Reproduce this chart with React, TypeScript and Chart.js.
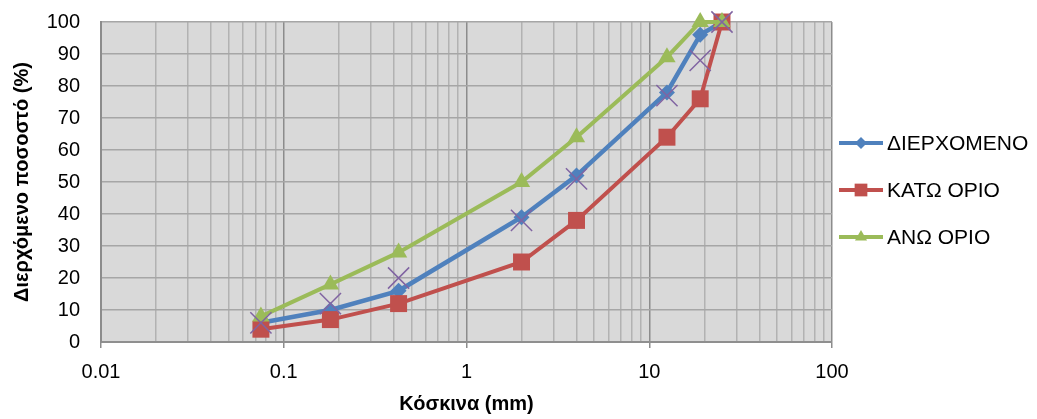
import React, { useEffect, useRef } from "react";
import { Chart, registerables } from "chart.js";

Chart.register(...registerables);

// Sieve sizes (mm)
const SIEVES = [0.075, 0.18, 0.425, 2, 4, 12.5, 19, 25];
// Passing percentages
const PASSING = [6, 10, 16, 39, 52, 78, 96, 100];
const LOWER_LIMIT = [4, 7, 12, 25, 38, 64, 76, 100];
const UPPER_LIMIT = [8, 18, 28, 50, 64, 89, 100, 100];
const SAMPLE_X = [6, 12, 20, 38, 51, 77, 88, 100];

const SERIES_NAMES = ["ΔΙΕΡΧΟΜΕΝΟ", "ΚΑΤΩ ΟΡΙΟ", "ΑΝΩ ΟΡΙΟ"];
const X_TICK_LABELS = ["0.01", "0.1", "1", "10", "100"];
const X_DECADES = [-2, -1, 0, 1, 2];
const Y_MIN = 0;
const Y_MAX = 100;
const Y_STEP = 10;

const X_TITLE = "Κόσκινα (mm)";
const Y_TITLE = "Διερχόμενο ποσοστό (%)";

const BLUE = "#4F81BD";
const RED = "#C0504D";
const GREEN = "#9BBB59";
const PURPLE = "#8064A2";

const FONT = "'Liberation Sans', Arial, sans-serif";

const isDecade = (v: number) => {
  const l = Math.log10(v);
  return Math.abs(l - Math.round(l)) < 1e-6;
};

const pts = (xs: number[], ys: number[]) => xs.map((x, i) => ({ x, y: ys[i] }));

export default function App() {
  const ref = useRef<HTMLCanvasElement | null>(null);

  useEffect(() => {
    if (!ref.current) return;

    const bgPlugin = {
      id: "plotBg",
      beforeDraw(chart: any) {
        const { ctx, chartArea } = chart;
        ctx.save();
        ctx.fillStyle = "#d9d9d9";
        ctx.fillRect(chartArea.left, chartArea.top, chartArea.right - chartArea.left, chartArea.bottom - chartArea.top);
        ctx.restore();
      },
    };

    const legendPlugin = {
      id: "customLegend",
      afterDraw(chart: any) {
        const { ctx, chartArea } = chart;
        const styles = [
          { color: BLUE, style: "rectRot", r: 6 },
          { color: RED, style: "rect", r: 9 },
          { color: GREEN, style: "triangle", r: 7 },
        ];
        const x0 = chartArea.right + 7;
        const lineLen = 44;
        const ys = [143, 190, 237];
        ctx.save();
        styles.forEach((s, i) => {
          const y = ys[i];
          ctx.strokeStyle = s.color;
          ctx.lineWidth = 4;
          ctx.beginPath();
          ctx.moveTo(x0, y);
          ctx.lineTo(x0 + lineLen, y);
          ctx.stroke();
          const cx = x0 + lineLen / 2;
          ctx.fillStyle = s.color;
          ctx.beginPath();
          if (s.style === "rectRot") {
            ctx.moveTo(cx - s.r, y);
            ctx.lineTo(cx, y - s.r);
            ctx.lineTo(cx + s.r, y);
            ctx.lineTo(cx, y + s.r);
          } else if (s.style === "rect") {
            const h = s.r * Math.SQRT1_2;
            ctx.rect(cx - h, y - h, 2 * h, 2 * h);
          } else {
            ctx.moveTo(cx, y - s.r);
            ctx.lineTo(cx + s.r * 0.866, y + s.r * 0.5);
            ctx.lineTo(cx - s.r * 0.866, y + s.r * 0.5);
          }
          ctx.closePath();
          ctx.fill();
          ctx.fillStyle = "#000";
          ctx.font = `21px ${FONT}`;
          ctx.textBaseline = "middle";
          ctx.textAlign = "left";
          ctx.fillText(SERIES_NAMES[i], x0 + lineLen + 4, y + 1);
        });
        ctx.restore();
      },
    };

    const chart = new Chart(ref.current, {
      type: "line",
      data: {
        datasets: [
          {
            label: "",
            data: pts(SIEVES, SAMPLE_X),
            showLine: false,
            clip: false,
            pointStyle: "crossRot",
            pointRadius: 15,
            pointBorderColor: PURPLE,
            pointBackgroundColor: PURPLE,
            pointBorderWidth: 1.5,
            borderColor: PURPLE,
            order: 0,
          },
          {
            label: SERIES_NAMES[2],
            data: pts(SIEVES, UPPER_LIMIT),
            clip: false,
            borderColor: GREEN,
            backgroundColor: GREEN,
            borderWidth: 4,
            pointStyle: "triangle",
            pointRadius: 10,
            pointBorderWidth: 0,
            pointBackgroundColor: GREEN,
            order: 1,
          },
          {
            label: SERIES_NAMES[1],
            data: pts(SIEVES, LOWER_LIMIT),
            clip: false,
            borderColor: RED,
            backgroundColor: RED,
            borderWidth: 4,
            pointStyle: "rect",
            pointRadius: 12,
            pointBorderWidth: 0,
            pointBackgroundColor: RED,
            order: 2,
          },
          {
            label: SERIES_NAMES[0],
            data: pts(SIEVES, PASSING),
            clip: false,
            borderColor: BLUE,
            backgroundColor: BLUE,
            borderWidth: 4.5,
            pointStyle: "rectRot",
            pointRadius: 8,
            pointBorderWidth: 0,
            pointBackgroundColor: BLUE,
            order: 3,
          },
        ],
      },
      options: {
        animation: false,
        responsive: true,
        maintainAspectRatio: false,
        layout: { padding: { top: 0, right: 205, bottom: 0, left: 0 } },
        plugins: {
          legend: { display: false },
          tooltip: { enabled: false },
        },
        elements: { line: { tension: 0 } },
        scales: {
          x: {
            type: "logarithmic",
            min: 0.01,
            max: 100,
            afterBuildTicks(scale: any) {
              const ticks: any[] = [];
              for (let e = X_DECADES[0]; e < X_DECADES[X_DECADES.length - 1]; e++) {
                for (let m = 1; m <= 9; m++) {
                  const v = parseFloat((m * Math.pow(10, e)).toPrecision(6));
                  ticks.push({ value: v, major: m === 1 });
                }
              }
              ticks.push({ value: Math.pow(10, X_DECADES[X_DECADES.length - 1]), major: true });
              scale.ticks = ticks;
            },
            afterFit(scale: any) {
              scale.height = 77;
            },
            ticks: {
              autoSkip: false,
              maxRotation: 0,
              padding: 12,
              color: "#000",
              font: { family: FONT, size: 20 },
              callback: (value: any) => {
                const v = Number(value);
                if (!isDecade(v)) return "";
                const e = Math.round(Math.log10(v));
                const idx = X_DECADES.indexOf(e);
                return idx >= 0 ? X_TICK_LABELS[idx] : "";
              },
            },
            grid: {
              color: (c: any) => (c.tick && isDecade(c.tick.value) ? "#8c8c8c" : "#b2b2b2"),
              tickColor: (c: any) => (c.tick && isDecade(c.tick.value) ? "#8c8c8c" : "rgba(0,0,0,0)"),
              lineWidth: 1.5,
              tickLength: 6,
              drawTicks: true,
            },
            border: { color: "#8f8f8f", width: 2 },
            title: {
              display: true,
              text: X_TITLE,
              color: "#000",
              font: { family: FONT, size: 20, weight: "bold" },
              padding: { top: 0, bottom: 3 },
            },
          },
          y: {
            min: Y_MIN,
            max: Y_MAX,
            afterFit(scale: any) {
              scale.width = 101;
            },
            ticks: {
              stepSize: Y_STEP,
              padding: 10,
              color: "#000",
              font: { family: FONT, size: 20 },
            },
            grid: {
              color: "#a6a6a6",
              lineWidth: 1.5,
              drawTicks: true,
              tickLength: 11,
              tickColor: "rgba(0,0,0,0)",
            },
            border: { color: "#8c8c8c", width: 2 },
            title: {
              display: true,
              text: Y_TITLE,
              color: "#000",
              font: { family: FONT, size: 20, weight: "bold" },
              padding: { top: 10, bottom: 0 },
            },
          },
        },
      },
      plugins: [bgPlugin, legendPlugin],
    } as any);

    return () => chart.destroy();
  }, []);

  return (
    <div style={{ position: "fixed", left: 0, top: 0, width: 1037, height: 419, background: "#fff" }}>
      <canvas ref={ref} />
    </div>
  );
}
